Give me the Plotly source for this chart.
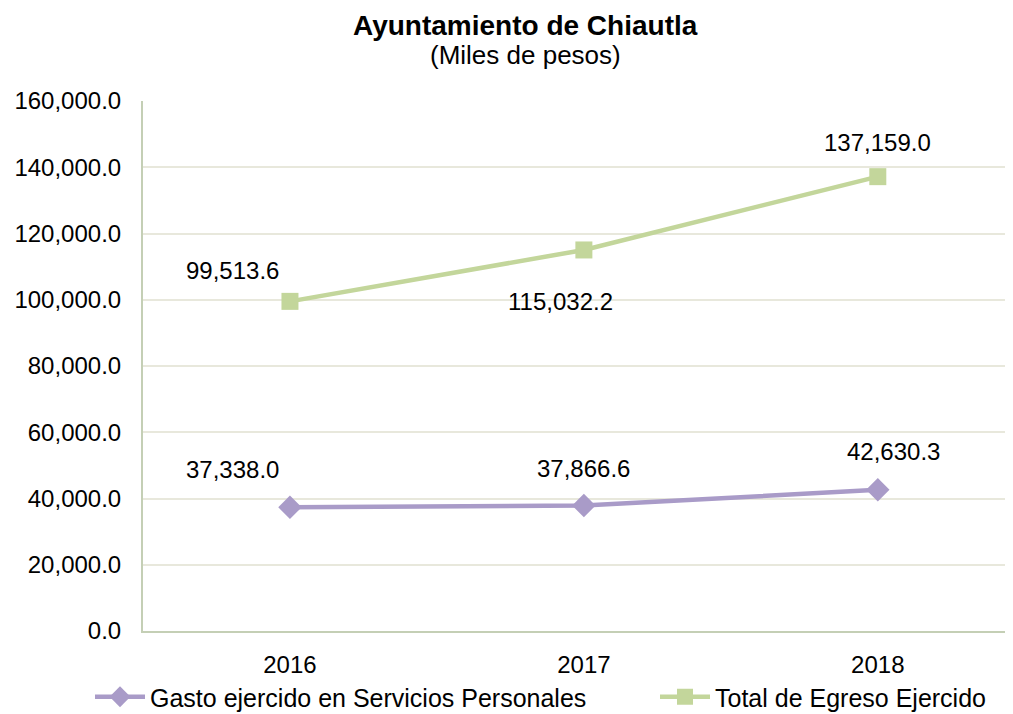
import plotly.graph_objects as go

years = ["2016", "2017", "2018"]
gasto = [37338.0, 37866.6, 42630.3]
total = [99513.6, 115032.2, 137159.0]
y_ticks = [0, 20000, 40000, 60000, 80000, 100000, 120000, 140000, 160000]
y_tick_labels = ["0.0", "20,000.0", "40,000.0", "60,000.0", "80,000.0",
                 "100,000.0", "120,000.0", "140,000.0", "160,000.0"]
series_names = ["Gasto ejercido en Servicios Personales", "Total de Egreso Ejercido"]

# label offsets (px) per point
gasto_shift = [(-57, 38), (0, 37), (16, 38)]
total_shift = [(-57, 31), (-23, -52), (0, 34)]

FONT = "Liberation Sans, Arial, sans-serif"
purple = "#a99bc8"
green = "#c3d69b"

# page has an 8px body margin; figure coordinates = page - 8
OFF = 8
W, H = 1013 - OFF, 714 - OFF
PLOT_LEFT = 143 - OFF
PLOT_TOP, PLOT_BOTTOM = 101 - OFF, 631 - OFF

def paper_y(page_py):
    return (PLOT_BOTTOM - (page_py - OFF)) / (PLOT_BOTTOM - PLOT_TOP)

fig = go.Figure()
fig.add_trace(go.Scatter(
    x=years, y=gasto, mode="lines+markers",
    name=series_names[0], legend="legend",
    line=dict(color=purple, width=4.5),
    marker=dict(symbol="diamond", size=18, color=purple),
))
fig.add_trace(go.Scatter(
    x=years, y=total, mode="lines+markers",
    name=series_names[1], legend="legend2",
    line=dict(color=green, width=4.5),
    marker=dict(symbol="square", size=17, color=green),
))

def fmt(v):
    return f"{v:,.1f}"

for i in range(len(years)):
    fig.add_annotation(x=i, y=gasto[i], text=fmt(gasto[i]), showarrow=False,
                       xshift=gasto_shift[i][0], yshift=gasto_shift[i][1],
                       font=dict(size=24, color="#000000", family=FONT))
    fig.add_annotation(x=i, y=total[i], text=fmt(total[i]), showarrow=False,
                       xshift=total_shift[i][0], yshift=total_shift[i][1],
                       font=dict(size=24, color="#000000", family=FONT))

title_x = (525 - 143) / (1013 - 143)
fig.add_annotation(xref="paper", yref="paper", x=title_x, y=paper_y(25),
                   xanchor="center", yanchor="middle", showarrow=False,
                   text="<b>Ayuntamiento de Chiautla</b>",
                   font=dict(size=28, color="#000000", family=FONT))
fig.add_annotation(xref="paper", yref="paper", x=title_x, y=paper_y(55),
                   xanchor="center", yanchor="middle", showarrow=False,
                   text="(Miles de pesos)",
                   font=dict(size=26, color="#000000", family=FONT))

legend_common = dict(orientation="h", xref="container", yref="container",
                     xanchor="left", y=(714 - 697) / H, yanchor="middle",
                     font=dict(size=25, family=FONT), itemwidth=50,
                     tracegroupgap=0, bgcolor="rgba(0,0,0,0)")

fig.update_layout(
    width=W, height=H,
    margin=dict(l=PLOT_LEFT, r=0, t=PLOT_TOP, b=H - PLOT_BOTTOM),
    paper_bgcolor="white", plot_bgcolor="white",
    font=dict(family=FONT, size=24, color="#000000"),
    showlegend=True,
    legend=dict(x=(90 - OFF) / W, **legend_common),
    legend2=dict(x=(655 - OFF) / W, **legend_common),
    xaxis=dict(type="category", range=[-0.5, 2.46], showgrid=False,
               showline=True, linecolor="#c4cfb5", linewidth=2, automargin=False,
               ticks="", tickfont=dict(size=24), ticklabelstandoff=11, fixedrange=True),
    yaxis=dict(range=[0, 160000], tickvals=y_ticks, ticktext=y_tick_labels,
               showgrid=True, gridcolor="#e8e8dc", gridwidth=2, automargin=False,
               showline=True, linecolor="#c4cfb5", linewidth=2,
               ticks="", tickfont=dict(size=24), ticklabelstandoff=15, zeroline=False),
)

fig.write_html("out.html")
